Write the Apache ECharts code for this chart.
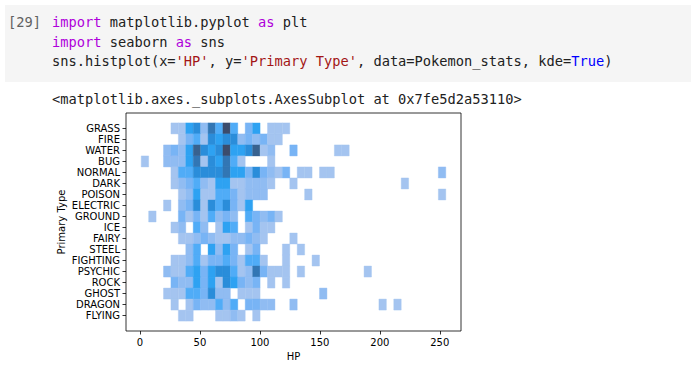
<!DOCTYPE html>
<html><head><meta charset="utf-8">
<script src="https://cdn.jsdelivr.net/npm/echarts@6/dist/echarts.min.js"></script>
<style>
html,body{margin:0;padding:0;background:#fff;width:691px;height:390px;overflow:hidden;}
#chart{position:absolute;left:0;top:0;width:691px;height:390px;}
.cellbg{position:absolute;left:5px;top:5px;width:686px;height:77px;background:#f5f5f5;}
.mono{font-family:'DejaVu Sans Mono',monospace;font-size:13.7px;white-space:pre;position:absolute;line-height:16px;height:16px;color:#212121;}
.kw{color:#af00db}
.st{color:#a31515}
.bl{color:#0000ff}
</style></head>
<body>
<div id="chart"></div>
<div class="cellbg"></div>
<div class="mono" style="left:8px;top:14px;color:#616161">[29]</div>
<div class="mono" style="left:52px;top:14px"><span class="kw">import</span> matplotlib.pyplot <span class="kw">as</span> plt</div>
<div class="mono" style="left:52px;top:34px"><span class="kw">import</span> seaborn <span class="kw">as</span> sns</div>
<div class="mono" style="left:52px;top:53px">sns.histplot(x=<span class="st">'HP'</span>, y=<span class="st">'Primary Type'</span>, data=Pokemon_stats, kde=<span class="bl">True</span>)</div>
<div class="mono" style="left:52px;top:91px">&lt;matplotlib.axes._subplots.AxesSubplot at 0x7fe5d2a53110&gt;</div>
<script>
// Categories (rows, top to bottom)
const types = ['GRASS','FIRE','WATER','BUG','NORMAL','DARK','POISON','ELECTRIC','GROUND','ICE','FAIRY','STEEL','FIGHTING','PSYCHIC','ROCK','GHOST','DRAGON','FLYING'];
// HP histogram bins
const hpMin = 1, hpMax = 255, binCount = 41;
const xTicks = [0, 50, 100, 150, 200, 250];
// counts per type: [binIndex, count]
const grass    = [[4,1],[5,1],[6,5],[7,6],[8,2],[9,7],[10,4],[11,9],[12,4],[14,3],[15,5],[17,1],[18,1],[19,1]];
const fire     = [[5,1],[6,3],[7,4],[8,1],[9,6],[10,5],[11,6],[12,6],[13,2],[14,3],[15,2],[16,3],[17,1],[18,1]];
const water    = [[3,2],[4,3],[5,2],[6,5],[7,8],[8,6],[9,5],[10,6],[11,9],[12,5],[13,5],[14,6],[15,8],[16,1],[17,2],[20,3],[26,1],[27,1]];
const bug      = [[0,1],[3,2],[4,2],[5,2],[6,5],[7,7],[8,1],[9,6],[10,5],[11,7],[12,4],[13,1],[17,1]];
const normal   = [[4,1],[5,4],[6,4],[7,6],[8,6],[9,6],[10,6],[11,7],[12,5],[13,5],[14,3],[15,6],[16,3],[17,2],[18,1],[19,3],[21,1],[22,1],[24,1],[25,1],[40,2]];
const dark     = [[4,1],[5,2],[6,3],[7,4],[8,2],[9,1],[10,5],[11,5],[12,1],[13,1],[14,2],[15,2],[16,2],[17,1],[20,1],[35,1]];
const poison   = [[5,1],[6,2],[7,5],[8,1],[9,1],[10,4],[11,4],[12,3],[13,1],[14,2],[15,2],[16,2],[22,1],[40,1]];
const electric = [[3,1],[5,2],[6,3],[7,6],[8,1],[9,6],[10,4],[11,6],[12,3],[13,1],[14,5]];
const ground   = [[1,1],[5,3],[6,1],[7,3],[8,1],[9,4],[10,2],[11,3],[12,2],[14,4],[15,3],[16,2],[17,3],[18,1]];
const ice      = [[4,1],[5,2],[7,4],[8,2],[10,1],[11,5],[12,4],[14,1],[15,3],[16,1],[17,1]];
const fairy    = [[5,1],[6,1],[7,2],[8,3],[9,2],[10,1],[11,1],[12,2],[13,2],[14,3],[15,2],[16,1],[20,1]];
const steel    = [[6,2],[7,4],[9,5],[10,2],[11,5],[12,3],[14,1],[15,3],[19,1],[21,1]];
const fighting = [[4,1],[5,1],[6,2],[7,4],[8,1],[9,3],[10,3],[11,4],[12,3],[13,1],[14,4],[15,4],[16,1],[19,1],[23,1]];
const psychic  = [[3,2],[4,1],[5,1],[6,4],[7,5],[8,3],[9,5],[10,6],[11,6],[12,4],[13,1],[14,2],[15,7],[16,3],[17,1],[18,1],[19,1],[21,1],[30,1]];
const rock     = [[4,3],[5,2],[6,2],[7,5],[8,3],[9,5],[10,1],[11,6],[12,5],[13,3],[14,2],[15,3],[17,1],[19,1]];
const ghost    = [[3,1],[4,1],[5,1],[6,4],[7,4],[8,3],[9,6],[10,2],[11,2],[13,1],[14,1],[15,1],[24,2]];
const dragon   = [[4,1],[6,1],[7,3],[8,2],[9,2],[10,4],[11,2],[12,4],[14,3],[15,3],[16,2],[17,2],[20,2],[32,1],[34,1]];
const flying   = [[5,1],[6,1],[10,1],[11,1],[12,2],[13,1],[15,1]];
const rows = [grass, fire, water, bug, normal, dark, poison, electric, ground, ice, fairy, steel, fighting, psychic, rock, ghost, dragon, flying];

const levelColors = ['#a4c4f0','#90bcf2','#78b4f5','#50acf7','#2ea2f2','#2a8dda','#3276b4','#38628f','#3c4c6c'];

const binW = (hpMax - hpMin) / binCount;
const binEdges = [];
for (let i = 0; i <= binCount; i++) binEdges.push(hpMin + i * binW);
const pad = (hpMax - hpMin) * 0.05;
const xMin = hpMin - pad, xMax = hpMax + pad;
const yPad = types.length * 0.05;
const yMin = -0.5 - yPad, yMax = types.length - 0.5 + yPad;

const data = [];
rows.forEach((r, k) => r.forEach(([b, c]) => data.push([binEdges[b], binEdges[b + 1], k, c])));

function renderItem(params, api) {
  const p0 = api.coord([api.value(0), api.value(2) - 0.5]);
  const p1 = api.coord([api.value(1), api.value(2) + 0.5]);
  const c = api.visual('color');
  return {
    type: 'rect',
    shape: { x: p0[0], y: Math.min(p0[1], p1[1]), width: p1[0] - p0[0], height: Math.abs(p1[1] - p0[1]) },
    style: { fill: c, stroke: c, lineWidth: 0.4 }
  };
}

const font = { fontFamily: 'DejaVu Sans', fontSize: 10, color: '#000' };
const chart = echarts.init(document.getElementById('chart'), null, { renderer: 'svg', width: 691, height: 390 });
chart.setOption({
  animation: false,
  grid: { left: 126, top: 113, width: 335, height: 218, show: true, borderColor: '#000', borderWidth: 0.8, backgroundColor: 'rgba(0,0,0,0)' },
  xAxis: {
    type: 'value', min: xMin, max: xMax,
    name: 'HP', nameLocation: 'middle', nameGap: 20, nameTextStyle: font,
    axisLine: { show: false, onZero: false }, splitLine: { show: false },
    axisTick: { show: true, length: 3.5, lineStyle: { color: '#000', width: 0.8 }, customValues: xTicks },
    axisLabel: Object.assign({ customValues: xTicks, margin: 6 }, font)
  },
  yAxis: {
    type: 'value', inverse: true, min: yMin, max: yMax,
    name: 'Primary Type', nameLocation: 'middle', nameGap: 60, nameTextStyle: font,
    axisLine: { show: false, onZero: false }, splitLine: { show: false },
    axisTick: { show: true, length: 3.5, lineStyle: { color: '#000', width: 0.8 }, customValues: types.map((t, i) => i) },
    axisLabel: Object.assign({ customValues: types.map((t, i) => i), margin: 6, formatter: v => types[Math.round(v)] }, font)
  },
  visualMap: { show: false, type: 'continuous', dimension: 3, min: 1, max: 9, inRange: { color: levelColors } },
  series: [{ type: 'custom', renderItem: renderItem, data: data, encode: { x: [0, 1], y: 2 } }]
});
</script>
</body></html>
